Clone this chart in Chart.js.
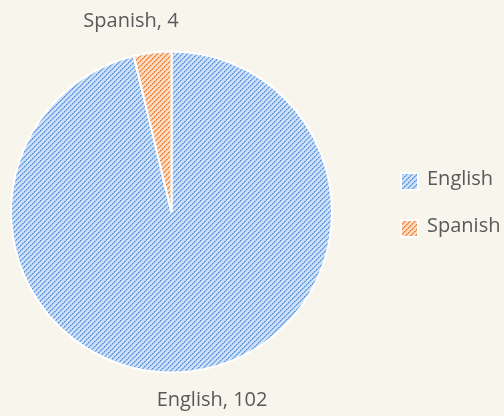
<!DOCTYPE html>
<html>
<head>
<meta charset="utf-8">
<script src="https://cdn.jsdelivr.net/npm/chart.js@4/dist/chart.umd.min.js"></script>
<style>
  html, body { margin: 0; padding: 0; background: #f8f5ec; }
  #wrap { width: 504px; height: 416px; }
</style>
</head>
<body>
<div id="wrap"><canvas id="pieChart" width="504" height="416"></canvas></div>
<script>
const languages = ['English', 'Spanish']
const speakers = [102, 4]

const textColor = '#595959'
const fontFamily = '"Open Sans", "Noto Sans", sans-serif'

// hatched fill, like the office "wide upward diagonal" pattern
function makeHatch(base, stripe, dot) {
    var n = 5
    var tile = document.createElement('canvas')
    tile.width = n * 2
    tile.height = n * 2
    var ctx = tile.getContext('2d')
    ctx.fillStyle = base
    ctx.fillRect(0, 0, n * 2, n * 2)
    for (var x = 0; x < n * 2; x++) {
        for (var y = 0; y < n * 2; y++) {
            var k = (x + y) % n
            if (k == 0 || k == 1) {
                ctx.fillStyle = (k == 0 && x % 2 == 0) ? dot : stripe
                ctx.fillRect(x, y, 1, 1)
            }
        }
    }
    return document.getElementById('pieChart').getContext('2d').createPattern(tile, 'repeat')
}

const blueHatch = makeHatch('#d0e1f5', '#8db7ea', '#5592db')
const orangeHatch = makeHatch('#fbdcc4', '#f4a66c', '#eb7a2c')
const fills = [blueHatch, orangeHatch]

const outsideLabels = {
    id: 'outsideLabels',
    afterDraw(chart) {
        const ctx = chart.ctx
        const meta = chart.getDatasetMeta(0)
        ctx.save()
        ctx.fillStyle = textColor
        ctx.font = '20px ' + fontFamily
        ctx.textAlign = 'center'
        ctx.textBaseline = 'alphabetic'
        meta.data.forEach((arc, i) => {
            const mid = (arc.startAngle + arc.endAngle) / 2
            const r = arc.outerRadius + 30
            const text = languages[i] + ', ' + speakers[i]
            const dir = Math.cos(mid) < 0 ? -1 : 1
            const x = arc.x + Math.cos(mid) * r + dir * 18
            const y = arc.y + Math.sin(mid) * r + 4.5
            ctx.fillText(text, x, y)
        })

        // legend
        ctx.textAlign = 'left'
        languages.forEach((name, i) => {
            const top = 172 + i * 47
            ctx.fillStyle = '#ffffff'
            ctx.fillRect(400, top, 19, 19)
            ctx.fillStyle = fills[i]
            ctx.fillRect(402, top + 2, 15, 15)
            ctx.fillStyle = textColor
            ctx.fillText(name, 427, top + 13)
        })
        ctx.restore()
    }
}

var chrt = document.getElementById('pieChart').getContext('2d')
const chartConfig = {
    type: 'pie',
    data: {
        labels: languages,
        datasets: [{
            data: speakers,
            backgroundColor: fills,
            borderColor: '#ffffff',
            borderWidth: 2,
        }],
    },
    options: {
        responsive: false,
        animation: false,
        layout: {
            padding: { left: 10, right: 171, top: 50, bottom: 42 }
        },
        plugins: {
            legend: { display: false },
            tooltip: { enabled: false }
        }
    },
    plugins: [outsideLabels]
}
var pie = new Chart(chrt, chartConfig)
</script>
</body>
</html>
